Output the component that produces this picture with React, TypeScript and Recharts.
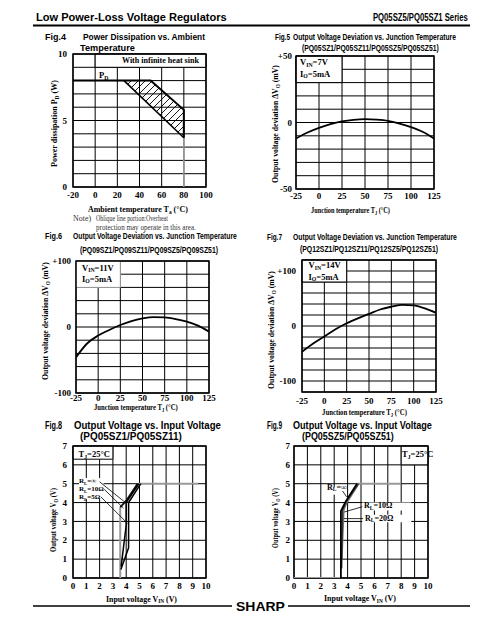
import React, { useLayoutEffect, useRef, useState } from 'react';
import {
  ComposedChart,
  Line,
  Area,
  XAxis,
  YAxis,
  CartesianGrid,
  ReferenceArea,
  ReferenceLine,
} from 'recharts';

const SANS = '"Liberation Sans", Arial, Helvetica, sans-serif';
const SERIF = '"Liberation Serif", "Times New Roman", Times, serif';

// ---- Fig.4 power dissipation vs. ambient temperature ----
const fig4TaTicks = [-20, 0, 20, 40, 60, 80, 100];
const fig4PdTicks = [0, 1, 2, 3, 4, 5, 6, 7, 8, 9, 10];
const fig4PdLabels: Record<string, string> = { '0': '0', '5': '5', '10': '10' };
const fig4UpperTa = [-20, 50, 80, 80];
const fig4UpperPd = [8, 8, 5.8, 3.7];
const fig4LowerTa = [26, 80];
const fig4LowerPd = [8, 3.7];
const fig4DropTa = [80, 80];
const fig4DropPd = [3.7, 0];
const fig4HatchTa = [26, 50, 80];
const fig4HatchLow = [8, 6.1, 3.7];
const fig4HatchHigh = [8, 8, 5.8];

// ---- Fig.5 / 6 / 7 output voltage deviation vs. junction temperature ----
const tjTicks = [-25, 0, 25, 50, 75, 100, 125];
const tjSamples = [-25, -12.5, 0, 12.5, 25, 37.5, 50, 62.5, 75, 87.5, 100, 112.5, 125];
const fig5Dev = [-12, -7.5, -4, -1.2, 0.8, 2, 2.5, 2.2, 1.3, -0.8, -3.5, -7, -12];
const fig6Dev = [-46, -25, -13, -4.5, 3, 9, 13, 15, 14.5, 12, 8, 2, -7];
const fig7Dev = [-47, -32, -19, -6, 5, 14, 22, 30, 35, 38.5, 37.5, 32, 24];
const fig5DevTicks = [-50, -40, -30, -20, -10, 0, 10, 20, 30, 40, 50];
const fig5DevLabels: Record<string, string> = { '50': '+50', '0': '0', '-50': '-50' };
const fig6DevTicks = [-100, -80, -60, -40, -20, 0, 20, 40, 60, 80, 100];
const fig6DevLabels: Record<string, string> = { '100': '+100', '0': '0', '-100': '-100' };
const fig7DevTicks = [-120, -100, -80, -60, -40, -20, 0, 20, 40, 60, 80, 100, 120];
const fig7DevLabels: Record<string, string> = { '100': '+100', '0': '0', '-100': '-100' };

// ---- Fig.8 / 9 output voltage vs. input voltage ----
const vinTicks = [0, 1, 2, 3, 4, 5, 6, 7, 8, 9, 10];
const voTicks = [0, 1, 2, 3, 4, 5, 6, 7];
const fig8StartVin = [3.55, 3.55];
const fig8StartVo = [0, 3.75];
const fig8InfVin = [3.55, 4.0, 4.85];
const fig8InfVo = [3.75, 4.1, 5.0];
const fig8R10Vin = [3.62, 4.0, 4.0, 4.95];
const fig8R10Vo = [0.6, 2.8, 4.0, 5.0];
const fig8R5Vin = [3.6, 4.18, 4.18, 5.1];
const fig8R5Vo = [0.45, 1.6, 4.0, 5.0];
const fig8FlatVin = [4.9, 9.4];
const fig8FlatVo = [5, 5];
const fig9OffVin = [0, 3.5];
const fig9OffVo = [0, 0];
const fig9InfVin = [3.5, 3.5, 3.85, 4.7];
const fig9InfVo = [0, 3.55, 4.05, 5.0];
const fig9R10Vin = [3.55, 3.62, 3.9, 4.78];
const fig9R10Vo = [0.5, 3.6, 4.05, 5.0];
const fig9R20Vin = [3.58, 3.72, 3.95, 4.85];
const fig9R20Vo = [1.0, 3.6, 4.0, 5.0];
const fig9FlatVin = [4.7, 8.0];
const fig9FlatVo = [5, 5];

const pts = (xs: number[], ys: number[]) => xs.map((x, i) => ({ x, y: ys[i] }));
const band = (xs: number[], lo: number[], hi: number[]) =>
  xs.map((x, i) => ({ x, range: [lo[i], hi[i]] }));

type Plot = { l: number; t: number; r: number; b: number };
const PADL = 40;
const PADT = 8;
const PADR = 10;
const PADB = 26;

const fig4Plot: Plot = { l: 73, t: 54, r: 206, b: 187 };
const fig5Plot: Plot = { l: 296, t: 56, r: 434, b: 189 };
const fig6Plot: Plot = { l: 76, t: 261, r: 209, b: 393 };
const fig7Plot: Plot = { l: 302, t: 260, r: 436, b: 392 };
const fig8Plot: Plot = { l: 73, t: 446, r: 206, b: 578 };
const fig9Plot: Plot = { l: 294, t: 446, r: 428, b: 578 };

const tickStyle = { fontSize: 9, fontFamily: SERIF, fontWeight: 700, fill: '#000' };

interface FrameProps {
  plot: Plot;
  xDomain: [number, number];
  xTicks: number[];
  xGap: number;
  yDomain: [number, number];
  yTicks: number[];
  yGap: number;
  yLabels?: Record<string, string>;
  children?: React.ReactNode;
}

const Frame: React.FC<FrameProps> = ({ plot, xDomain, xTicks, xGap, yDomain, yTicks, yGap, yLabels, children }) => (
  <div style={{ position: 'absolute', left: plot.l - PADL, top: plot.t - PADT }}>
    <ComposedChart
      width={plot.r - plot.l + PADL + PADR}
      height={plot.b - plot.t + PADT + PADB}
      margin={{ top: PADT, right: PADR, bottom: 0, left: 0 }}
    >
      <XAxis
        type="number"
        dataKey="x"
        domain={xDomain}
        ticks={xTicks}
        interval={0}
        allowDataOverflow
        height={PADB}
        tick={tickStyle}
        tickSize={0}
        tickMargin={xGap}
        axisLine={false}
        tickLine={false}
      />
      <YAxis
        type="number"
        domain={yDomain}
        ticks={yTicks}
        interval={0}
        allowDataOverflow
        width={PADL}
        tick={tickStyle}
        tickSize={0}
        tickMargin={yGap}
        axisLine={false}
        tickLine={false}
        tickFormatter={(v: number) => (yLabels ? yLabels[String(v)] ?? '' : String(v))}
      />
      <CartesianGrid stroke="#000" strokeWidth={1} />
      {children}
      <ReferenceArea
        x1={xDomain[0]}
        x2={xDomain[1]}
        y1={yDomain[0]}
        y2={yDomain[1]}
        fill="none"
        stroke="#000"
        strokeWidth={1.4}
      />
    </ComposedChart>
  </div>
);

const whiteBox = (x1: number, x2: number, y1: number, y2: number, stroke = 'none') => (
  <ReferenceArea x1={x1} x2={x2} y1={y1} y2={y2} fill="#fff" fillOpacity={1} stroke={stroke} strokeWidth={1} />
);

const leader = (x1: number, y1: number, x2: number, y2: number) => (
  <ReferenceLine segment={[{ x: x1, y: y1 }, { x: x2, y: y2 }]} stroke="#000" strokeWidth={0.8} />
);

const curve = (data: { x: number; y: number }[], color: string, width: number, type: 'linear' | 'monotone' = 'linear') => (
  <Line
    data={data}
    dataKey="y"
    type={type}
    stroke={color}
    strokeWidth={width}
    dot={false}
    activeDot={false}
    isAnimationActive={false}
  />
);

type Part = string | { s: string };
const richSpans = (parts: Part[]) => {
  let low = false;
  return parts.map((p, i) => {
    if (typeof p === 'string') {
      const dy = low ? -1.6 : 0;
      low = false;
      return (
        <tspan key={i} dy={dy}>
          {p}
        </tspan>
      );
    }
    low = true;
    return (
      <tspan key={i} dy={1.6} fontSize="68%">
        {p.s}
      </tspan>
    );
  });
};

// text squeezed horizontally to a measured width (the original uses condensed faces)
interface FitProps {
  x: number;
  y: number;
  len?: number;
  size: number;
  family?: string;
  weight?: number;
  fill?: string;
  vertical?: boolean;
  parts: Part[];
}

const Fit: React.FC<FitProps> = ({ x, y, len, size, family = SERIF, weight = 700, fill = '#000', vertical, parts }) => {
  const ref = useRef<SVGTextElement>(null);
  const [sx, setSx] = useState(1);
  useLayoutEffect(() => {
    if (!len || !ref.current) return;
    const w = ref.current.getComputedTextLength();
    if (w > 0) setSx(len / w);
  }, [len, size]);
  const tf = `translate(${x},${y})${vertical ? ' rotate(-90)' : ''} scale(${sx},1)`;
  return (
    <text
      ref={ref}
      transform={tf}
      textAnchor={vertical ? 'middle' : 'start'}
      fontFamily={family}
      fontWeight={weight}
      fontSize={size}
      fill={fill}
    >
      {richSpans(parts)}
    </text>
  );
};

const Title = (x: number, y: number, len: number, size: number, s: string) => (
  <Fit x={x} y={y} len={len} size={size} family={SANS} parts={[s]} />
);

const Overlay = () => (
  <svg width={503} height={643} style={{ position: 'absolute', left: 0, top: 0, pointerEvents: 'none' }}>
    <defs>
      <pattern id="fig4Hatch" patternUnits="userSpaceOnUse" width={7} height={7}>
        <path d="M-1,1 L1,-1 M0,7 L7,0 M6,8 L8,6" stroke="#000" strokeWidth={0.9} />
      </pattern>
    </defs>

    {/* page header */}
    {Title(36, 21, 191, 11.5, 'Low Power-Loss Voltage Regulators')}
    {Title(373, 21, 95, 11.5, 'PQ05SZ5/PQ05SZ1 Series')}
    <line x1={33} x2={470} y1={25.5} y2={25.5} stroke="#000" strokeWidth={2} />

    {/* Fig.4 */}
    {Title(45, 40, 21, 9, 'Fig.4')}
    {Title(83, 40, 122, 9, 'Power Dissipation vs. Ambient')}
    {Title(80, 50.5, 55, 9, 'Temperature')}
    <Fit x={122} y={63} len={77} size={8.5} parts={['With infinite heat sink']} />
    <Fit x={99} y={78} size={8.5} parts={['P', { s: 'D' }]} />
    <Fit x={88} y={212} len={100} size={8.5} parts={['Ambient temperature T', { s: 'a' }, ' (°C)']} />
    <Fit x={57} y={123.5} len={87} size={8.5} vertical parts={['Power dissipation P', { s: 'D' }, ' (W)']} />
    <Fit x={73} y={221} size={8} weight={400} fill="#333" parts={['Note)']} />
    <Fit x={96} y={221} len={72} size={8} weight={400} fill="#333" parts={['Oblique line portion:Overheat']} />
    <Fit x={96} y={229.5} len={100} size={8} weight={400} fill="#333" parts={['protection may operate in this area.']} />

    {/* Fig.5 */}
    {Title(275, 40, 15, 9, 'Fig.5')}
    {Title(293, 40, 163, 9, 'Output Voltage Deviation vs. Junction Temperature')}
    {Title(302, 50.5, 137, 9, '(PQ05SZ1/PQ05SZ11/PQ05SZ5/PQ05SZ51)')}
    <Fit x={300} y={65} size={8.5} parts={['V', { s: 'IN' }, '=7V']} />
    <Fit x={300} y={76.5} size={8.5} parts={['I', { s: 'O' }, '=5mA']} />
    <Fit x={311} y={213} len={79} size={8.5} parts={['Junction temperature T', { s: 'J' }, ' (°C)']} />
    <Fit x={278} y={124} len={118} size={8.5} vertical parts={['Output voltage deviation ΔV', { s: 'O' }, ' (mV)']} />

    {/* Fig.6 */}
    {Title(45, 238.5, 17, 9, 'Fig.6')}
    {Title(73, 238.5, 164, 9, 'Output Voltage Deviation vs. Junction Temperature')}
    {Title(80, 252.5, 138, 9, '(PQ09SZ1/PQ09SZ11/PQ09SZ5/PQ09SZ51)')}
    <Fit x={82} y={270.5} size={8.5} parts={['V', { s: 'IN' }, '=11V']} />
    <Fit x={82} y={281.5} size={8.5} parts={['I', { s: 'O' }, '=5mA']} />
    <Fit x={94} y={410} len={84} size={8.5} parts={['Junction temperature T', { s: 'J' }, ' (°C)']} />
    <Fit x={48} y={321} len={118} size={8.5} vertical parts={['Output voltage deviation ΔV', { s: 'O' }, ' (mV)']} />

    {/* Fig.7 */}
    {Title(267, 240, 15, 9, 'Fig.7')}
    {Title(293, 240, 164, 9, 'Output Voltage Deviation vs. Junction Temperature')}
    {Title(300, 251.5, 138, 9, '(PQ12SZ1/PQ12SZ11/PQ12SZ5/PQ12SZ51)')}
    <Fit x={308.5} y={268} size={8.5} parts={['V', { s: 'IN' }, '=14V']} />
    <Fit x={308.5} y={279.5} size={8.5} parts={['I', { s: 'O' }, '=5mA']} />
    <Fit x={322} y={415} len={85} size={8.5} parts={['Junction temperature T', { s: 'J' }, ' (°C)']} />
    <Fit x={274} y={330} len={118} size={8.5} vertical parts={['Output voltage deviation ΔV', { s: 'O' }, ' (mV)']} />

    {/* Fig.8 */}
    {Title(45, 428.5, 17, 10, 'Fig.8')}
    {Title(74, 428.5, 147, 10, 'Output Voltage vs. Input Voltage')}
    {Title(80, 440, 102, 10, '(PQ05SZ1/PQ05SZ11)')}
    <Fit x={78.5} y={457} size={8.5} parts={['T', { s: 'J' }, '=25°C']} />
    <Fit x={79} y={483} size={7} parts={['R', { s: 'L' }, '=∞']} />
    <Fit x={79} y={491} size={7} parts={['R', { s: 'L' }, '=10Ω']} />
    <Fit x={79} y={499} size={7} parts={['R', { s: 'L' }, '=5Ω']} />
    <Fit x={106} y={601.5} len={71} size={8.5} parts={['Input voltage V', { s: 'IN' }, ' (V)']} />
    <Fit x={56} y={520} len={64} size={8.5} vertical parts={['Output voltage V', { s: 'O' }, ' (V)']} />

    {/* Fig.9 */}
    {Title(267, 428.5, 15, 10, 'Fig.9')}
    {Title(293, 428.5, 139, 10, 'Output Voltage vs. Input Voltage')}
    {Title(302, 440, 92, 10, '(PQ05SZ5/PQ05SZ51)')}
    <Fit x={402} y={457} size={8.5} parts={['T', { s: 'J' }, '=25°C']} />
    <Fit x={327} y={489.5} size={8} parts={['R', { s: 'L' }, '=∞']} />
    <Fit x={364} y={508} size={8} parts={['R', { s: 'L' }, '=10Ω']} />
    <Fit x={365} y={520.5} size={8} parts={['R', { s: 'L' }, '=20Ω']} />
    <Fit x={324} y={601} len={72} size={8.5} parts={['Input voltage V', { s: 'IN' }, ' (V)']} />
    <Fit x={278} y={518} len={60} size={8.5} vertical parts={['Output voltage V', { s: 'O' }, ' (V)']} />

    {/* footer */}
    <line x1={33} x2={232} y1={606} y2={606} stroke="#000" strokeWidth={1.5} />
    <line x1={288} x2={470} y1={606} y2={606} stroke="#000" strokeWidth={1.5} />
    {Title(236, 610.5, 49, 12, 'SHARP')}
  </svg>
);

export default function App() {
  return (
    <div style={{ position: 'absolute', left: 0, top: 0, width: 503, height: 643, background: '#fff' }}>
      <Frame plot={fig4Plot} xDomain={[-20, 100]} xTicks={fig4TaTicks} xGap={5} yDomain={[0, 10]} yTicks={fig4PdTicks} yGap={6} yLabels={fig4PdLabels}>
        {whiteBox(0, 100, 9, 10, '#000')}
        <Area
          data={band(fig4HatchTa, fig4HatchLow, fig4HatchHigh)}
          dataKey="range"
          type="linear"
          stroke="none"
          fill="url(#fig4Hatch)"
          fillOpacity={1}
          isAnimationActive={false}
        />
        {curve(pts(fig4DropTa, fig4DropPd), '#9a9a9a', 1.5)}
        {curve(pts(fig4LowerTa, fig4LowerPd), '#000', 1.6)}
        {curve(pts(fig4UpperTa, fig4UpperPd), '#000', 2)}
      </Frame>

      <Frame plot={fig5Plot} xDomain={[-25, 125]} xTicks={tjTicks} xGap={4} yDomain={[-50, 50]} yTicks={fig5DevTicks} yGap={4} yLabels={fig5DevLabels}>
        {whiteBox(-25, 25, 30, 50, '#000')}
        {curve(pts(tjSamples, fig5Dev), '#000', 1.8, 'monotone')}
      </Frame>

      <Frame plot={fig6Plot} xDomain={[-25, 125]} xTicks={tjTicks} xGap={2} yDomain={[-100, 100]} yTicks={fig6DevTicks} yGap={5} yLabels={fig6DevLabels}>
        {whiteBox(-25, 25, 60, 100, '#9a9a9a')}
        {curve(pts(tjSamples, fig6Dev), '#000', 1.8, 'monotone')}
      </Frame>

      <Frame plot={fig7Plot} xDomain={[-25, 125]} xTicks={tjTicks} xGap={6} yDomain={[-120, 120]} yTicks={fig7DevTicks} yGap={6} yLabels={fig7DevLabels}>
        {whiteBox(-25, 25, 80, 120, '#000')}
        {curve(pts(tjSamples, fig7Dev), '#000', 1.8, 'monotone')}
      </Frame>

      <Frame plot={fig8Plot} xDomain={[0, 10]} xTicks={vinTicks} xGap={5} yDomain={[0, 7]} yTicks={voTicks} yGap={6}>
        {whiteBox(0, 3, 6.3, 7, '#000')}
        {whiteBox(0.45, 2.3, 4.2, 5.3)}
        {curve(pts(fig8FlatVin, fig8FlatVo), '#9a9a9a', 1.8)}
        {curve(pts(fig8StartVin, fig8StartVo), '#9a9a9a', 2)}
        {curve(pts(fig8InfVin, fig8InfVo), '#111', 1.8)}
        {curve(pts(fig8R10Vin, fig8R10Vo), '#000', 1.5)}
        {curve(pts(fig8R5Vin, fig8R5Vo), '#000', 1.5)}
        {leader(2.0, 5.1, 3.98, 3.98)}
        {leader(2.35, 4.7, 3.8, 3.7)}
        {leader(2.1, 4.3, 4.1, 2.9)}
      </Frame>

      <Frame plot={fig9Plot} xDomain={[0, 10]} xTicks={vinTicks} xGap={5} yDomain={[0, 7]} yTicks={voTicks} yGap={4}>
        {whiteBox(8, 10, 6, 7, '#000')}
        {whiteBox(2.35, 3.65, 4.42, 4.82)}
        {whiteBox(5.1, 8.75, 3.58, 4.0)}
        {whiteBox(5.1, 8.75, 2.95, 3.35)}
        {curve(pts(fig9OffVin, fig9OffVo), '#9a9a9a', 1.8)}
        {curve(pts(fig9FlatVin, fig9FlatVo), '#9a9a9a', 1.8)}
        {curve(pts(fig9R20Vin, fig9R20Vo), '#777', 1.4)}
        {curve(pts(fig9R10Vin, fig9R10Vo), '#333', 1.6)}
        {curve(pts(fig9InfVin, fig9InfVo), '#000', 1.8)}
        {leader(3.62, 4.62, 3.93, 4.3)}
        {leader(5.1, 3.78, 3.75, 3.5)}
        {leader(5.15, 3.15, 3.72, 3.15)}
      </Frame>

      <Overlay />
    </div>
  );
}
